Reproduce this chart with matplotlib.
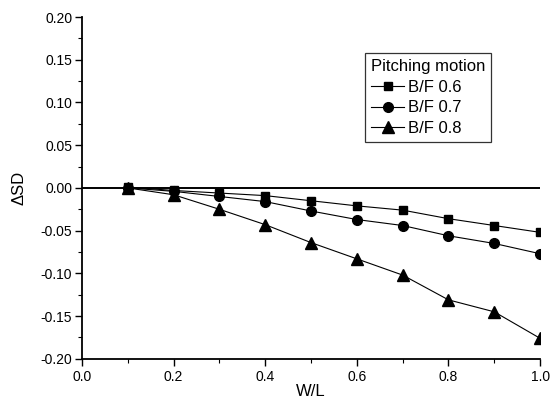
import numpy as np
import matplotlib.pyplot as plt
from matplotlib.ticker import MultipleLocator

plt.rcParams['font.family'] = ['Liberation Sans', 'DejaVu Sans']

# W/L ratio and the change in SD for each B/F ratio
wl = [0.1, 0.2, 0.3, 0.4, 0.5, 0.6, 0.7, 0.8, 0.9, 1.0]
bf06 = [0.001, -0.003, -0.006, -0.009, -0.015, -0.021, -0.026, -0.036, -0.044, -0.052]
bf07 = [0.0, -0.004, -0.010, -0.016, -0.027, -0.037, -0.044, -0.056, -0.065, -0.077]
bf08 = [0.0, -0.008, -0.025, -0.043, -0.064, -0.083, -0.102, -0.131, -0.145, -0.176]
labels = ['B/F 0.6', 'B/F 0.7', 'B/F 0.8']

fig = plt.figure(figsize=(5.5, 4.05), dpi=100)
ax = fig.add_axes([0.149, 0.114, 0.833, 0.844])

ax.axhline(0, color='black', lw=1.4, zorder=1)

lw = 0.8
ax.plot(wl, bf06, '-s', color='black', lw=lw, ms=6, label=labels[0])
ax.plot(wl, bf07, '-o', color='black', lw=lw, ms=7, label=labels[1])
ax.plot(wl, bf08, '-^', color='black', lw=lw, ms=8, label=labels[2])

ax.set_xlim(0, 1.0)
ax.set_ylim(-0.20, 0.20)
ax.xaxis.set_major_locator(MultipleLocator(0.2))
ax.xaxis.set_minor_locator(MultipleLocator(0.1))
ax.yaxis.set_major_locator(MultipleLocator(0.05))
ax.yaxis.set_minor_locator(MultipleLocator(0.025))
ax.xaxis.set_major_formatter(plt.FormatStrFormatter('%.1f'))
ax.yaxis.set_major_formatter(plt.FormatStrFormatter('%.2f'))

for s in ['top', 'right']:
    ax.spines[s].set_visible(False)
for s in ['left', 'bottom']:
    ax.spines[s].set_linewidth(1.3)

ax.tick_params(which='major', direction='out', length=5, width=1, labelsize=10)
ax.tick_params(axis='x', which='major', pad=3)
ax.tick_params(axis='y', which='major', pad=2)
ax.tick_params(which='minor', direction='out', length=3, width=0.8)

ax.set_xlabel('W/L', fontsize=12, labelpad=0)
ax.set_ylabel('ΔSD', fontsize=12, labelpad=10)

leg = ax.legend(title='Pitching motion', loc='upper left', bbox_to_anchor=(0.618, 0.895),
                fontsize=12, title_fontsize=12, frameon=True, fancybox=False,
                edgecolor='black', handlelength=2.0, handletextpad=0.2,
                borderpad=0.35, labelspacing=0.35, borderaxespad=0)
leg.get_frame().set_linewidth(0.9)
leg._legend_box.align = 'left'

fig.savefig('out.png', dpi=100)
